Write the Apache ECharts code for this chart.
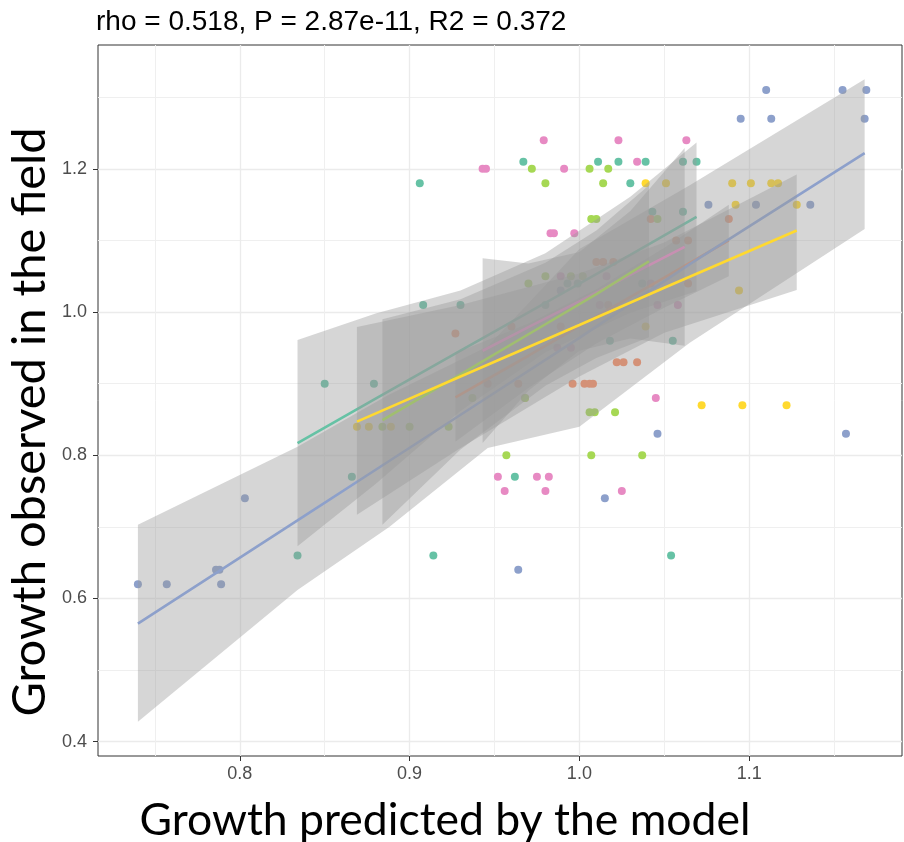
<!DOCTYPE html>
<html><head><meta charset="utf-8">
<script src="https://cdn.jsdelivr.net/npm/echarts@6/dist/echarts.min.js"></script>
<style>html,body{margin:0;padding:0;background:#fff}#c{width:904px;height:842px}</style>
</head><body><div id="c"></div>
<script>
// ---- text ----
const titleText = 'rho = 0.518, P = 2.87e-11, R2 = 0.372';
const xTitle = 'Growth predicted by the model';
const yTitle = 'Growth observed in the field';

// ---- ticks ----
const xMajorTicks = [0.8, 0.9, 1.0, 1.1];
const xMinorTicks = [0.75, 0.85, 0.95, 1.05, 1.15];
const yMajorTicks = [0.4, 0.6, 0.8, 1.0, 1.2];
const yMinorTicks = [0.5, 0.7, 0.9, 1.1, 1.3];

// ---- points [predicted, observed] per group ----
const tealPts = [[0.834,0.66],[0.850,0.90],[0.866,0.77],[0.879,0.90],[0.906,1.18],[0.908,1.01],[0.914,0.66],[0.930,1.01],[0.962,0.77],[0.967,1.21],[0.980,1.01],[0.993,1.04],[0.999,1.04],[1.011,1.21],[1.018,0.96],[1.023,1.21],[1.030,1.18],[1.037,1.04],[1.039,1.21],[1.043,1.14],[1.054,0.66],[1.055,0.96],[1.061,1.14],[1.061,1.21],[1.069,1.21]];
const orangePts = [[0.927,0.97],[0.946,0.90],[0.960,0.98],[0.964,0.90],[0.989,0.98],[0.996,0.90],[1.003,0.90],[1.006,0.90],[1.008,0.90],[1.010,1.07],[1.014,1.07],[1.017,1.01],[1.020,1.07],[1.022,0.93],[1.026,0.93],[1.034,0.93],[1.042,1.13],[1.057,1.10],[1.064,1.10],[1.064,1.04],[1.088,1.13]];
const bluePts = [[0.740,0.62],[0.757,0.62],[0.786,0.64],[0.788,0.64],[0.789,0.62],[0.803,0.74],[0.964,0.64],[0.989,1.03],[1.015,0.74],[1.046,0.83],[1.076,1.15],[1.095,1.27],[1.104,1.15],[1.110,1.31],[1.113,1.27],[1.136,1.15],[1.155,1.31],[1.157,0.83],[1.168,1.27],[1.169,1.31]];
const pinkPts = [[0.943,1.20],[0.945,1.20],[0.952,0.77],[0.956,0.75],[0.968,0.88],[0.975,0.77],[0.979,1.24],[0.980,0.75],[0.982,0.77],[0.983,1.11],[0.985,1.11],[0.987,0.95],[0.989,1.05],[0.991,1.20],[0.995,0.95],[0.997,1.11],[1.012,1.01],[1.016,1.05],[1.023,1.24],[1.025,0.75],[1.034,1.21],[1.042,1.04],[1.045,0.88],[1.046,1.01],[1.058,1.01],[1.063,1.24]];
const greenPts = [[0.884,0.84],[0.900,0.84],[0.923,0.84],[0.937,0.88],[0.957,0.80],[0.968,0.88],[0.970,1.04],[0.972,1.20],[0.980,1.05],[0.980,1.18],[0.995,1.05],[1.002,1.05],[1.006,1.20],[1.006,0.86],[1.007,0.80],[1.007,1.13],[1.009,0.86],[1.010,1.13],[1.014,1.18],[1.017,1.20],[1.021,0.86],[1.037,0.80],[1.046,1.13]];
const yellowPts = [[0.869,0.84],[0.876,0.84],[0.889,0.84],[1.039,0.98],[1.039,1.18],[1.051,1.18],[1.072,0.87],[1.090,1.18],[1.092,1.15],[1.094,1.03],[1.096,0.87],[1.101,1.18],[1.113,1.18],[1.117,1.18],[1.122,0.87],[1.128,1.15]];

// ---- fitted lines with confidence band [x, lower, fit, upper] ----
const tealBand = [[0.834,0.673,0.817,0.961],[0.88,0.760,0.879,0.998],[0.93,0.862,0.946,1.030],[0.98,0.944,1.013,1.082],[1.03,0.999,1.080,1.161],[1.069,1.029,1.133,1.237]];
const orangeBand = [[0.927,0.819,0.881,0.943],[0.97,0.894,0.939,0.984],[1.01,0.956,0.994,1.032],[1.05,1.006,1.048,1.090],[1.088,1.050,1.100,1.150]];
const blueBand = [[0.740,0.428,0.565,0.703],[0.834,0.612,0.709,0.812],[0.888,0.700,0.792,0.885],[0.946,0.810,0.881,0.952],[1.0,0.840,0.964,1.088],[1.065,0.957,1.067,1.177],[1.168,1.116,1.222,1.325]];
const pinkBand = [[0.943,0.817,0.946,1.075],[0.97,0.890,0.979,1.068],[1.0,0.946,1.015,1.084],[1.03,0.963,1.052,1.141],[1.062,0.953,1.091,1.229]];
const greenBand = [[0.884,0.703,0.849,0.990],[0.93,0.808,0.913,1.018],[0.98,0.897,0.983,1.069],[1.01,0.936,1.025,1.114],[1.041,0.965,1.071,1.177]];
const yellowBand = [[0.869,0.717,0.847,0.979],[0.93,0.810,0.910,1.010],[1.0,0.910,0.982,1.054],[1.05,0.971,1.034,1.097],[1.128,1.031,1.114,1.192]];

// ---- styling ----
const groupDefs = [
  {pts: tealPts,   band: tealBand,   color: '#66C2A5'},
  {pts: orangePts, band: orangeBand, color: '#FC8D62'},
  {pts: bluePts,   band: blueBand,   color: '#8DA0CB'},
  {pts: pinkPts,   band: pinkBand,   color: '#E78AC3'},
  {pts: greenPts,  band: greenBand,  color: '#A6D854'},
  {pts: yellowPts, band: yellowBand, color: '#FFD92F'}
];
const X_MIN = 0.7165, X_MAX = 1.19, Y_MIN = 0.38, Y_MAX = 1.373;
const tickFont = 'Liberation Sans';
const bigFont = 'Lato';

const series = [];
groupDefs.forEach((g) => {
  series.push({type: 'scatter', data: g.pts, symbolSize: 8, z: 2, silent: true,
    itemStyle: {color: g.color, opacity: 1}});
});
groupDefs.forEach((g, i) => {
  const band = g.band;
  series.push({
    type: 'custom', z: 3 + 2 * i, silent: true, clip: true,
    data: band.map(r => [r[0], r[1], r[3]]),
    encode: {x: 0, y: [1, 2]},
    renderItem: function (params, api) {
      if (params.dataIndex !== 0) return null;
      const top = band.map(r => api.coord([r[0], r[3]]));
      const bot = band.map(r => api.coord([r[0], r[1]])).reverse();
      return {type: 'polygon', shape: {points: top.concat(bot)},
        style: {fill: 'rgba(153,153,153,0.4)', stroke: null}};
    }
  });
  series.push({
    type: 'line', z: 4 + 2 * i, silent: true, showSymbol: false,
    data: band.map(r => [r[0], r[2]]),
    lineStyle: {color: g.color, width: 2.6}
  });
});

const chart = echarts.init(document.getElementById('c'), null, {renderer: 'canvas'});
chart.setOption({
  animation: false,
  backgroundColor: '#ffffff',
  grid: {left: 98, right: 2, top: 45, bottom: 86, show: true, borderColor: '#333333', borderWidth: 1, backgroundColor: 'transparent'},
  xAxis: [
    {type: 'value', min: X_MIN, max: X_MAX, position: 'bottom',
      axisLine: {show: false},
      axisTick: {show: true, customValues: xMajorTicks, length: 5, lineStyle: {color: '#333', width: 1}},
      axisLabel: {customValues: xMajorTicks, formatter: v => v.toFixed(1), color: '#4d4d4d', fontSize: 18, fontFamily: tickFont, margin: 9},
      splitLine: {show: true, lineStyle: {color: '#ebebeb', width: 1.3}}},
    {type: 'value', min: X_MIN, max: X_MAX, position: 'bottom',
      axisLine: {show: false},
      axisTick: {show: false, customValues: xMinorTicks},
      axisLabel: {show: false, customValues: xMinorTicks},
      splitLine: {show: true, lineStyle: {color: '#efefef', width: 1}}}
  ],
  yAxis: [
    {type: 'value', min: Y_MIN, max: Y_MAX, position: 'left',
      axisLine: {show: false},
      axisTick: {show: true, customValues: yMajorTicks, length: 5, lineStyle: {color: '#333', width: 1}},
      axisLabel: {customValues: yMajorTicks, formatter: v => v.toFixed(1), color: '#4d4d4d', fontSize: 18, fontFamily: tickFont, margin: 11},
      splitLine: {show: true, lineStyle: {color: '#ebebeb', width: 1.3}}},
    {type: 'value', min: Y_MIN, max: Y_MAX, position: 'left',
      axisLine: {show: false},
      axisTick: {show: false, customValues: yMinorTicks},
      axisLabel: {show: false, customValues: yMinorTicks},
      splitLine: {show: true, lineStyle: {color: '#efefef', width: 1}}}
  ],
  graphic: [
    {type: 'text', left: 96, top: 8, z: 100,
      style: {text: titleText, fontSize: 28, fontFamily: tickFont, fill: '#000'}},
    {type: 'text', x: 445, y: 821, z: 100,
      style: {text: xTitle, fontSize: 44.5, fontFamily: bigFont, fill: '#000', align: 'center', verticalAlign: 'middle'}},
    {type: 'text', x: 30, y: 422, rotation: Math.PI / 2, z: 100,
      style: {text: yTitle, fontSize: 47, fontFamily: bigFont, fill: '#000', align: 'center', verticalAlign: 'middle'}}
  ],
  series: series
});
</script></body></html>
